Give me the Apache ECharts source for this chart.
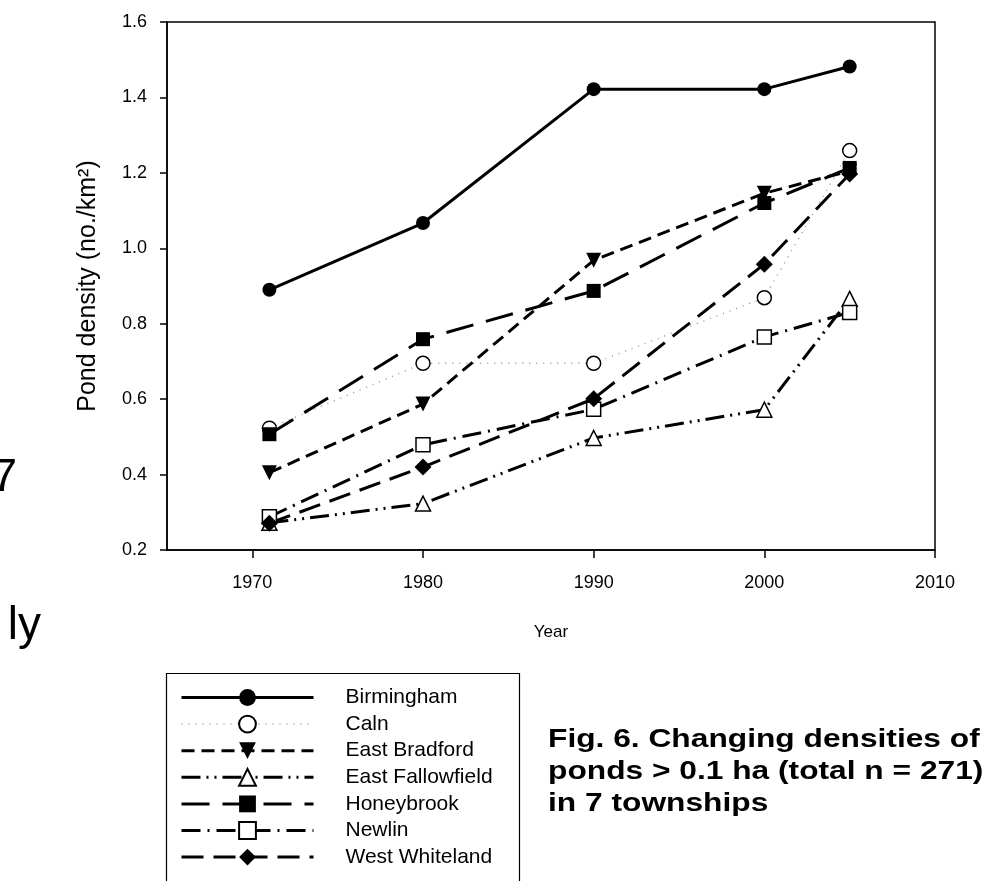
<!DOCTYPE html>
<html>
<head>
<meta charset="utf-8">
<script src="https://cdn.jsdelivr.net/npm/echarts@6/dist/echarts.min.js"></script>
<style>
  html, body { margin: 0; padding: 0; background: #fff; }
  #main { width: 982px; height: 881px; }
</style>
</head>
<body>
<div id="main"></div>
<script>
// data
var years = [1971, 1980, 1990, 2000, 2005];
var townships = ['Birmingham', 'Caln', 'East Bradford', 'East Fallowfield', 'Honeybrook', 'Newlin', 'West Whiteland'];
var birmingham = [0.890, 1.067, 1.422, 1.422, 1.482];
var caln = [0.523, 0.695, 0.695, 0.869, 1.259];
var eastBradford = [0.405, 0.587, 0.968, 1.146, 1.205];
var eastFallowfield = [0.272, 0.323, 0.497, 0.572, 0.866];
var honeybrook = [0.507, 0.759, 0.887, 1.120, 1.213];
var newlin = [0.288, 0.479, 0.573, 0.765, 0.830];
var westWhiteland = [0.271, 0.420, 0.601, 0.958, 1.197];
var xTicks = [1970, 1980, 1990, 2000, 2010];
var values = [birmingham, caln, eastBradford, eastFallowfield, honeybrook, newlin, westWhiteland];

var font = '"Liberation Sans", Arial, sans-serif';
var myChart = echarts.init(document.getElementById('main'));

// marker + line look for each township
var looks = [
  { symbol: 'circle', size: 14, fill: '#000', dash: 'solid', width: 3, color: '#000' },
  { symbol: 'circle', size: 14, fill: '#fff', dash: [1, 6], width: 1.5, color: '#999' },
  { symbol: 'triangle', size: 15, fill: '#000', dash: [13, 7], width: 3, color: '#000', rotate: 180 },
  { symbol: 'triangle', size: 15, fill: '#fff', dash: [19, 6, 2, 6, 2, 6], width: 3, color: '#000' },
  { symbol: 'rect', size: 14, fill: '#000', dash: [28, 13], width: 3, color: '#000' },
  { symbol: 'rect', size: 14, fill: '#fff', dash: [19, 7, 2, 7], width: 3, color: '#000' },
  { symbol: 'diamond', size: 17, fill: '#000', dash: [22, 10], width: 3, color: '#000' }
];

var series = townships.map(function (name, i) {
  var lk = looks[i];
  return {
    name: name,
    type: 'line',
    data: years.map(function (y, j) { return [y, values[i][j]]; }),
    symbol: lk.symbol,
    symbolSize: lk.size,
    symbolRotate: lk.rotate || 0,
    showAllSymbol: true,
    lineStyle: { color: lk.color, width: lk.width, type: lk.dash, cap: 'butt' },
    itemStyle: { color: lk.fill, borderColor: '#000', borderWidth: lk.fill === '#fff' ? 1.5 : 0, opacity: 1 },
    emphasis: { disabled: true },
    animation: false
  };
});

var legendData = townships.map(function (name, i) {
  return { name: name, lineStyle: { width: looks[i].width, type: looks[i].dash, color: looks[i].color } };
});

var option = {
  animation: false,
  grid: { left: 167, right: 47, top: 22, bottom: 331, show: true, borderColor: '#000', borderWidth: 1.5 },
  xAxis: {
    type: 'value', min: 1965, max: 2010,
    name: 'Year', nameLocation: 'middle', nameGap: 74,
    nameTextStyle: { color: '#000', fontSize: 17, fontFamily: font },
    axisLine: { lineStyle: { color: '#000', width: 1.5 } },
    axisTick: { customValues: xTicks, length: 8, lineStyle: { color: '#000', width: 1.5 } },
    axisLabel: { customValues: xTicks, color: '#000', fontSize: 18, fontFamily: font, margin: 24,
      formatter: function (v) { return String(v); } },
    splitLine: { show: false }
  },
  yAxis: {
    type: 'value', min: 0.2, max: 1.6, interval: 0.2,
    name: 'Pond density (no./km²)', nameLocation: 'middle', nameGap: 66,
    nameTextStyle: { color: '#000', fontSize: 25, fontFamily: font },
    axisLine: { show: true, lineStyle: { color: '#000', width: 1.5 } },
    axisTick: { show: true, length: 7, lineStyle: { color: '#000', width: 1.5 } },
    axisLabel: { color: '#000', fontSize: 18, fontFamily: font, margin: 20,
      formatter: function (v) { return v.toFixed(1); } },
    splitLine: { show: false }
  },
  legend: {
    data: legendData,
    orient: 'vertical',
    left: 180, top: 687,
    padding: 0,
    itemWidth: 132, itemHeight: 21, itemGap: 5.6,
    textStyle: { color: '#000', fontSize: 21, lineHeight: 19, fontFamily: font, padding: [0, 0, 0, 27] },
    selectedMode: false
  },
  graphic: [
    { type: 'rect', left: 164, top: 671, shape: { width: 353, height: 240 },
      style: { fill: 'none', stroke: '#000', lineWidth: 1.2 }, z: -1 },
    { type: 'text', x: 17, y: 455,
      style: { text: '7', font: '46px ' + font, fill: '#000', align: 'right' } },
    { type: 'text', x: 41, y: 603,
      style: { text: 'ly', font: '46px ' + font, fill: '#000', align: 'right' } },
    { type: 'text', x: 548, y: 724, scaleX: 1.22,
      style: { text: 'Fig. 6. Changing densities of\nponds > 0.1 ha (total n = 271)\nin 7 townships',
        font: 'bold 26px ' + font, lineHeight: 32, fill: '#000' } }
  ],
  series: series
};

myChart.setOption(option);
</script>
</body>
</html>
